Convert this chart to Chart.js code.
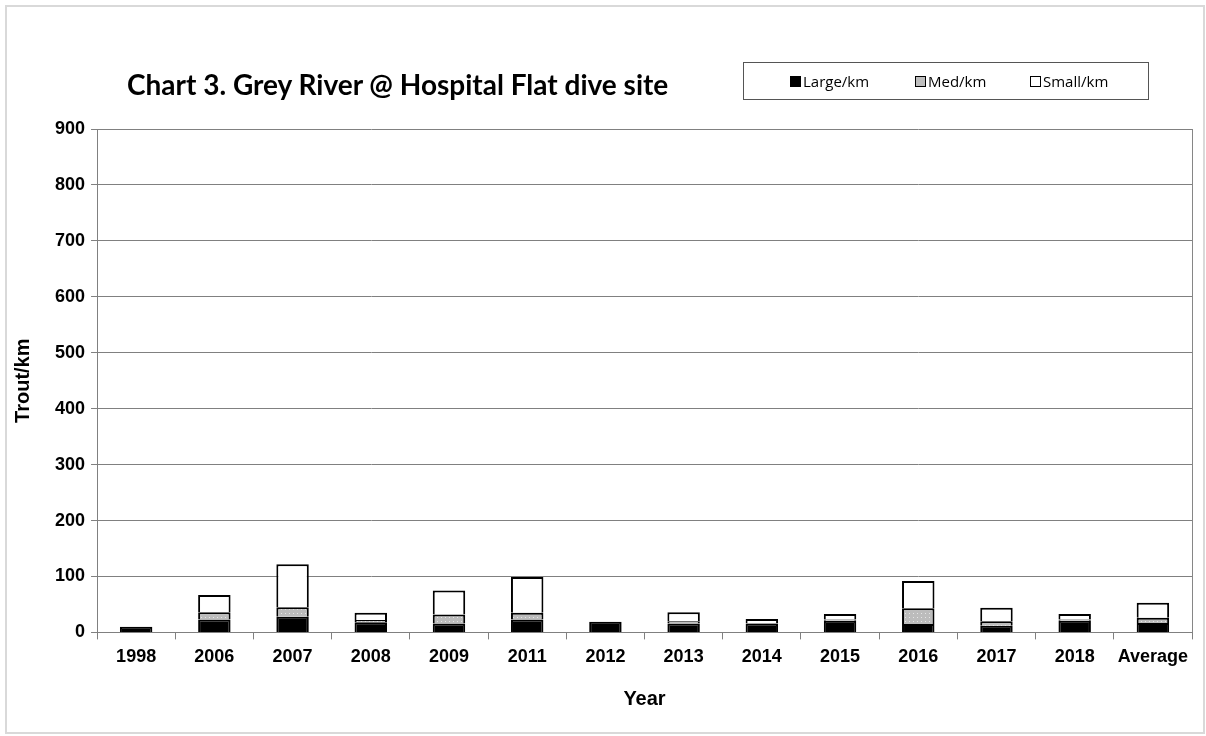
<!DOCTYPE html>
<html>
<head>
<meta charset="utf-8">
<script src="https://cdn.jsdelivr.net/npm/chart.js@4.4.0/dist/chart.umd.min.js"></script>
<style>
  body { margin: 0; background: #fff; }
  #wrap { position: relative; width: 1206px; height: 736px; }
  #frame { position: absolute; left: 5px; top: 5px; width: 1196px; height: 725px; border: 2px solid #d9d9d9; }
  #title { position: absolute; left: 127px; top: 67px; font: bold 28px Lato, "Open Sans", sans-serif; color: #000; white-space: nowrap; }
  #legend { position: absolute; left: 743px; top: 62px; width: 404px; height: 36px; border: 1px solid #555;
    font: 15px "Open Sans", sans-serif; color: #000; }
  #legend span.item { position: absolute; top: 8px; display: flex; align-items: center; }
  #legend i { display: inline-block; width: 9px; height: 9px; border: 1px solid #000; margin-right: 2px; }
</style>
</head>
<body>
<div id="wrap">
  <div id="frame"></div>
  <canvas id="chart" width="1206" height="736"></canvas>
  <div id="title">Chart 3. Grey River @ Hospital Flat dive site</div>
  <div id="legend">
    <span class="item" style="left:46px"><i style="background:#000"></i>Large/km</span>
    <span class="item" style="left:171px"><i style="background:#bfbfbf"></i>Med/km</span>
    <span class="item" style="left:286px"><i style="background:#fff"></i>Small/km</span>
  </div>
</div>
<script>
const years = ['1998', '2006', '2007', '2008', '2009', '2011', '2012', '2013', '2014', '2015', '2016', '2017', '2018', 'Average'];
const largePerKm = [10, 23, 28, 18, 16, 23, 19, 16, 16, 21, 15, 12, 21, 17];
const medPerKm = [0, 13, 17, 4, 16, 12, 0, 4, 1, 2, 28, 8, 2, 9];
const smallPerKm = [0, 31, 77, 13, 43, 64, 0, 16, 7, 10, 49, 24, 10, 27];

// dotted grey fill for the Med series
function dotPattern() {
  const c = document.createElement('canvas');
  c.width = 4; c.height = 4;
  const g = c.getContext('2d');
  g.fillStyle = '#bcbcbc';
  g.fillRect(0, 0, 4, 4);
  g.fillStyle = '#e6e6e6';
  g.fillRect(1, 1, 1, 1);
  return g.createPattern(c, 'repeat');
}

// right edge of the plot area
const rightBorder = {
  id: 'rightBorder',
  afterDraw(chart) {
    const { ctx, chartArea: a } = chart;
    ctx.save();
    ctx.strokeStyle = '#868686';
    ctx.lineWidth = 1;
    ctx.beginPath();
    ctx.moveTo(a.right + 0.5, a.top);
    ctx.lineTo(a.right + 0.5, a.bottom);
    ctx.stroke();
    ctx.restore();
  }
};

const barOpts = { borderColor: '#000', borderWidth: 2, barPercentage: 0.83, categoryPercentage: 0.5 };
const tickFont = { family: 'Liberation Sans', size: 18, weight: 'bold' };
const titleFont = { family: 'Liberation Sans', size: 20, weight: 'bold' };

new Chart(document.getElementById('chart'), {
  type: 'bar',
  data: {
    labels: years,
    datasets: [
      { label: 'Large/km', data: largePerKm, backgroundColor: '#000', ...barOpts },
      { label: 'Med/km', data: medPerKm, backgroundColor: dotPattern(), ...barOpts },
      { label: 'Small/km', data: smallPerKm, backgroundColor: '#fff', ...barOpts },
    ],
  },
  options: {
    responsive: false,
    animation: false,
    layout: { padding: { left: 11, right: 14, top: 129, bottom: 21 } },
    plugins: { legend: { display: false }, tooltip: { enabled: false } },
    scales: {
      x: {
        stacked: true,
        grid: { drawOnChartArea: false, drawTicks: true, tickLength: 7, color: '#808080', offset: true },
        border: { color: '#808080', width: 1 },
        ticks: { color: '#000', font: tickFont, padding: 7 },
        title: { display: true, text: 'Year', color: '#000', font: titleFont, padding: { top: 12 } },
      },
      y: {
        stacked: true,
        min: 0, max: 900,
        ticks: { stepSize: 100, color: '#000', font: tickFont, padding: 6 },
        grid: { color: '#808080', tickLength: 6 },
        border: { color: '#808080', width: 1 },
        title: { display: true, text: 'Trout/km', color: '#000', font: titleFont, padding: { top: 0, bottom: 14 } },
      },
    },
  },
  plugins: [rightBorder],
});
</script>
</body>
</html>
